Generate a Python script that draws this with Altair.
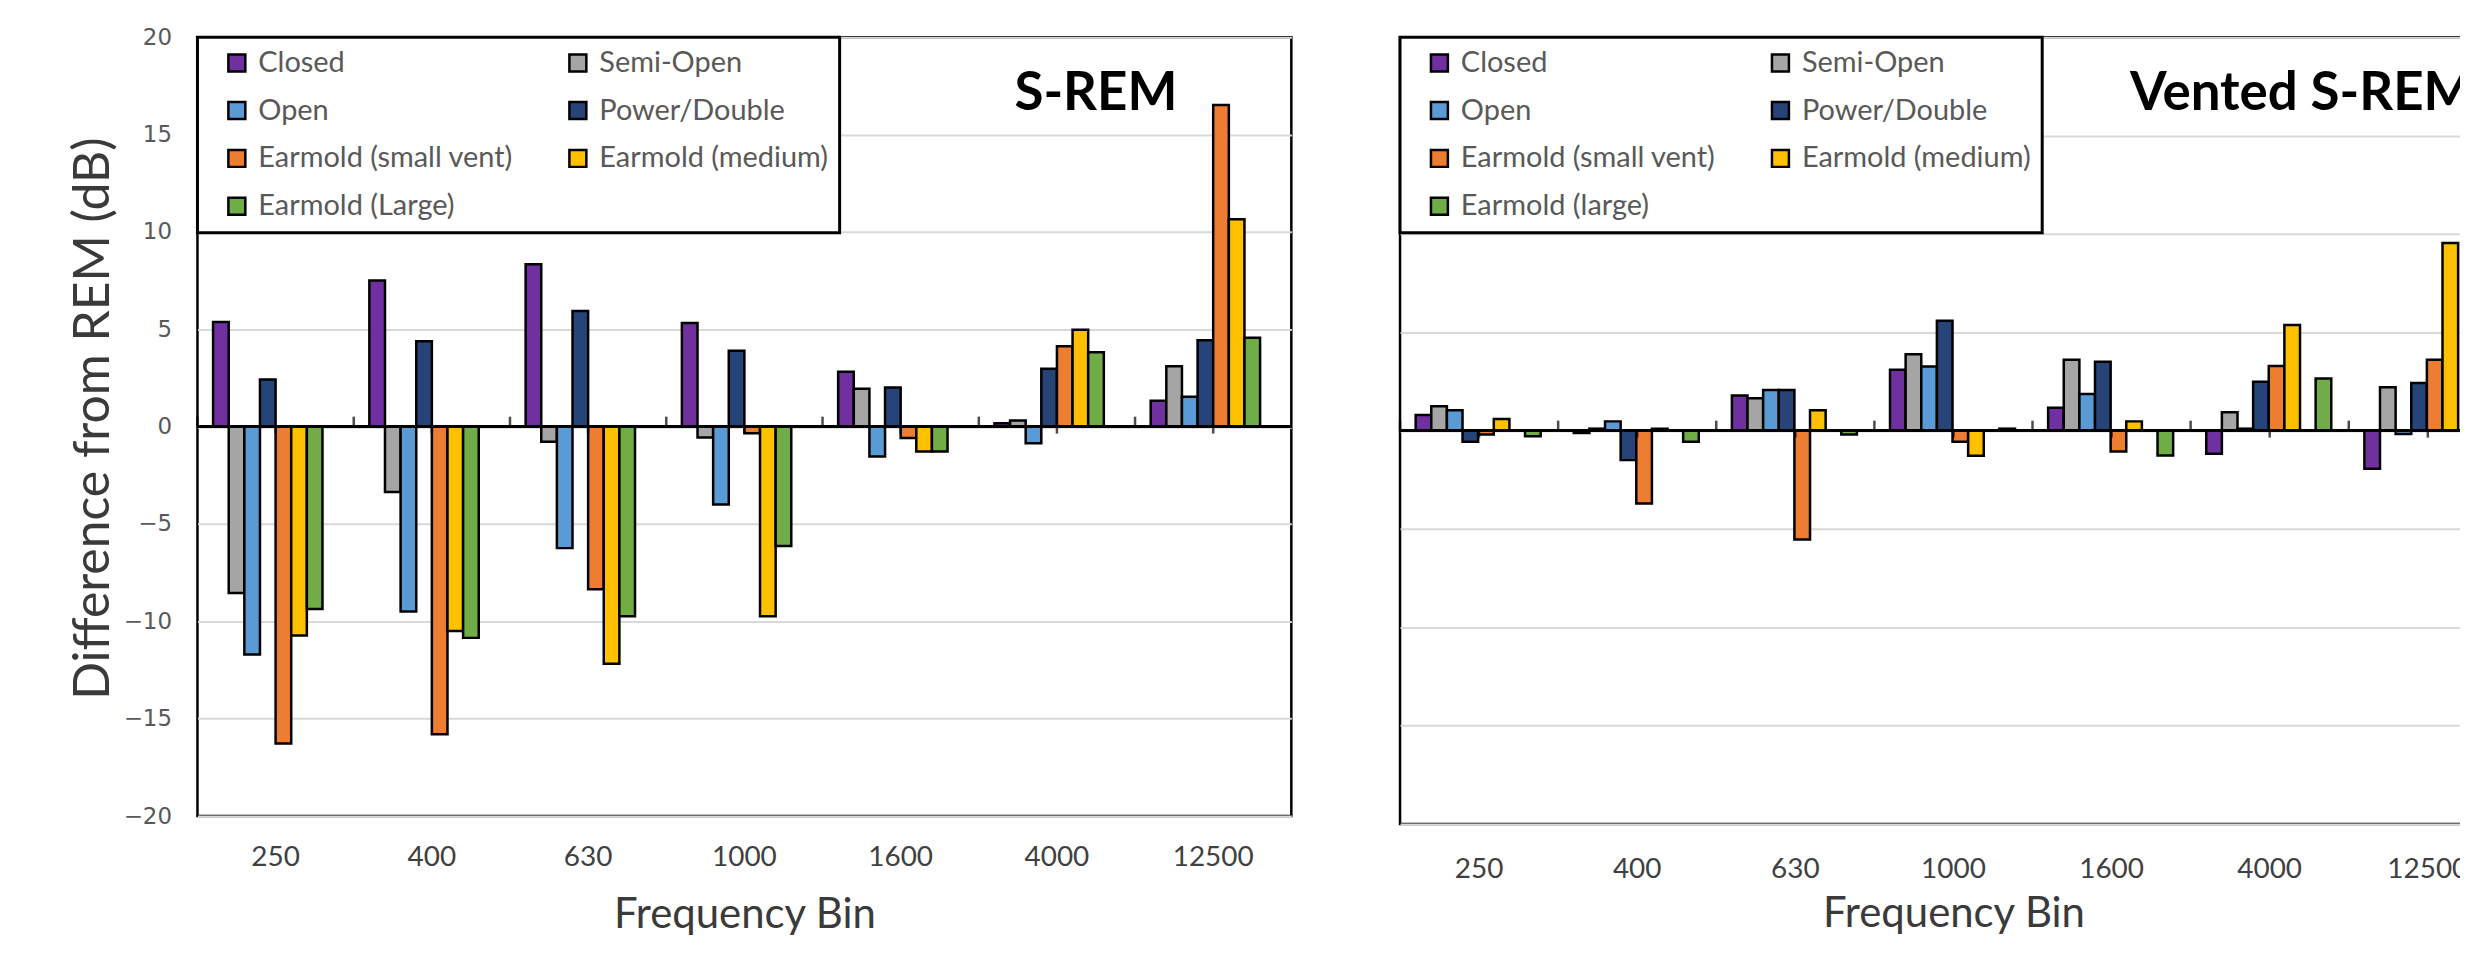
import altair as alt
import pandas as pd

FREQS = ["250", "400", "630", "1000", "1600", "4000", "12500"]
SERIES_SREM = ["Closed", "Semi-Open", "Open", "Power/Double",
               "Earmold (small vent)", "Earmold (medium)", "Earmold (Large)"]
SERIES_VENTED = ["Closed", "Semi-Open", "Open", "Power/Double",
                 "Earmold (small vent)", "Earmold (medium)", "Earmold (large)"]
COLORS = ["#7030A0", "#A5A5A5", "#5B9BD5", "#264478", "#ED7D31", "#FFC000", "#70AD47"]
Y_TICKS = [-20, -15, -10, -5, 0, 5, 10, 15, 20]

# S-REM panel values (dB)
srem_closed = [5.37, 7.5, 8.34, 5.32, 2.82, 0.17, 1.33]
srem_semi = [-8.55, -3.36, -0.78, -0.56, 1.95, 0.32, 3.1]
srem_open = [-11.7, -9.5, -6.24, -4.0, -1.53, -0.85, 1.54]
srem_power = [2.42, 4.39, 5.94, 3.9, 2.01, 2.97, 4.44]
srem_small = [-16.27, -15.8, -8.35, -0.34, -0.58, 4.13, 16.52]
srem_medium = [-10.73, -10.5, -12.18, -9.74, -1.28, 4.98, 10.65]
srem_large = [-9.37, -10.85, -9.74, -6.13, -1.28, 3.82, 4.57]

# Vented S-REM panel values (dB)
vent_closed = [0.79, -0.12, 1.78, 3.09, 1.16, -1.18, -1.94]
vent_semi = [1.24, 0.1, 1.65, 3.88, 3.6, 0.93, 2.2]
vent_open = [1.04, 0.47, 2.07, 3.26, 1.86, 0.1, -0.17]
vent_power = [-0.57, -1.5, 2.07, 5.58, 3.5, 2.48, 2.42]
vent_small = [-0.2, -3.71, -5.53, -0.57, -1.06, 3.29, 3.6]
vent_medium = [0.59, 0.1, 1.04, -1.28, 0.47, 5.37, 9.54]
vent_large = [-0.29, -0.57, -0.2, 0.1, -1.27, 2.65, 3.0]


def long_df(names, columns):
    rows = []
    for name, vals in zip(names, columns):
        for f, v in zip(FREQS, vals):
            rows.append({"freq": f, "series": name, "value": v})
    return pd.DataFrame(rows)


df_srem = long_df(SERIES_SREM, [srem_closed, srem_semi, srem_open, srem_power,
                                srem_small, srem_medium, srem_large])
df_vent = long_df(SERIES_VENTED, [vent_closed, vent_semi, vent_open, vent_power,
                                  vent_small, vent_medium, vent_large])
df_freq = pd.DataFrame({"freq": FREQS})


def x_axis(label_pad, title_pad):
    return alt.Axis(orient="bottom", domain=False, ticks=False, grid=False,
                    labelFont="Lato", labelFontSize=28, labelColor="#404040",
                    labelPadding=label_pad, labelAngle=0, title="Frequency Bin",
                    titleFont="Lato", titleFontSize=42, titleFontWeight="normal",
                    titleColor="#3a3a3a", titlePadding=title_pad)


def panel(df, names, width, height, label, text_x, text_align, show_y,
          x_label_pad, x_title_pad):
    yax = dict(values=Y_TICKS, grid=True, gridColor="#D9D9D9", gridWidth=2,
               ticks=False, domain=False, labels=show_y)
    if show_y:
        yax.update(labelFont="DejaVu Sans", labelFontSize=23, labelColor="#595959",
                   labelPadding=26, title="Difference from REM (dB)", titleFont="Lato",
                   titleFontSize=50, titleFontWeight="normal", titleColor="#3a3a3a",
                   titlePadding=5, titleY=382)
    else:
        yax.update(title=None)

    legend = alt.Legend(orient="none", legendX=0, legendY=0, columns=2, gridAlign="all",
                        direction="horizontal",
                        title=None, strokeColor="black", fillColor="white", padding=11,
                        rowPadding=18, columnPadding=36, symbolType="square",
                        symbolSize=289, symbolStrokeColor="black", symbolStrokeWidth=2.5,
                        symbolOffset=14, labelOffset=7, labelFont="Lato", labelFontSize=29,
                        labelColor="#595959", labelLimit=500)

    xax = x_axis(x_label_pad, x_title_pad)
    bars = alt.Chart(df).mark_bar(stroke="black", strokeWidth=2.5).encode(
        x=alt.X("freq:N", sort=FREQS, title="Frequency Bin",
                scale=alt.Scale(paddingInner=0, paddingOuter=0), axis=xax),
        xOffset=alt.XOffset("series:N", sort=names,
                            scale=alt.Scale(paddingInner=0, paddingOuter=1)),
        y=alt.Y("value:Q", scale=alt.Scale(domain=[-20, 20], nice=False),
                axis=alt.Axis(**yax)),
        color=alt.Color("series:N", sort=names,
                        scale=alt.Scale(domain=names, range=COLORS), legend=legend),
    )

    # small tick marks on the zero line: up at category boundaries, down at centers
    ticks_up = alt.Chart(df_freq).mark_tick(
        orient="vertical", size=10, thickness=2.5, yOffset=-5, color="black").encode(
        x=alt.X("freq:N", sort=FREQS, bandPosition=0, title="Frequency Bin", axis=xax),
        y=alt.datum(0),
    )
    ticks_down = alt.Chart(df_freq).mark_tick(
        orient="vertical", size=7, thickness=2.5, yOffset=3.5, color="black").encode(
        x=alt.X("freq:N", sort=FREQS, title="Frequency Bin", axis=xax),
        y=alt.datum(0),
    )
    zero = alt.Chart(df_freq).mark_rule(
        color="black", strokeWidth=2.5).encode(y=alt.datum(0))

    title = alt.Chart(pd.DataFrame({"t": [label]})).mark_text(
        font="Lato", fontSize=53, fontWeight="bold", align=text_align,
        baseline="alphabetic", color="black").encode(
        x=alt.value(text_x), y=alt.value(73), text="t:N")

    return alt.layer(bars, zero, ticks_up, ticks_down, title).properties(
        width=width, height=height)


left = panel(df_srem, SERIES_SREM, 1097, 781, "S-REM", 901, "center", True, 28, 23)
right = panel(df_vent, SERIES_VENTED, 1110, 789, "Vented S-REM", 732, "left", False, 32, 10)

chart = alt.hconcat(left, right, spacing=109, bounds="flush").resolve_scale(
    color="independent", x="independent", y="independent").resolve_legend(
    color="independent").properties(
    padding={"left": 59, "top": 15, "right": -50, "bottom": 0}, background="white"
).configure_view(stroke="black", strokeWidth=2.5).configure_legend(strokeWidth=3)

chart.save("out.html", embed_options={"renderer": "svg", "actions": False})
